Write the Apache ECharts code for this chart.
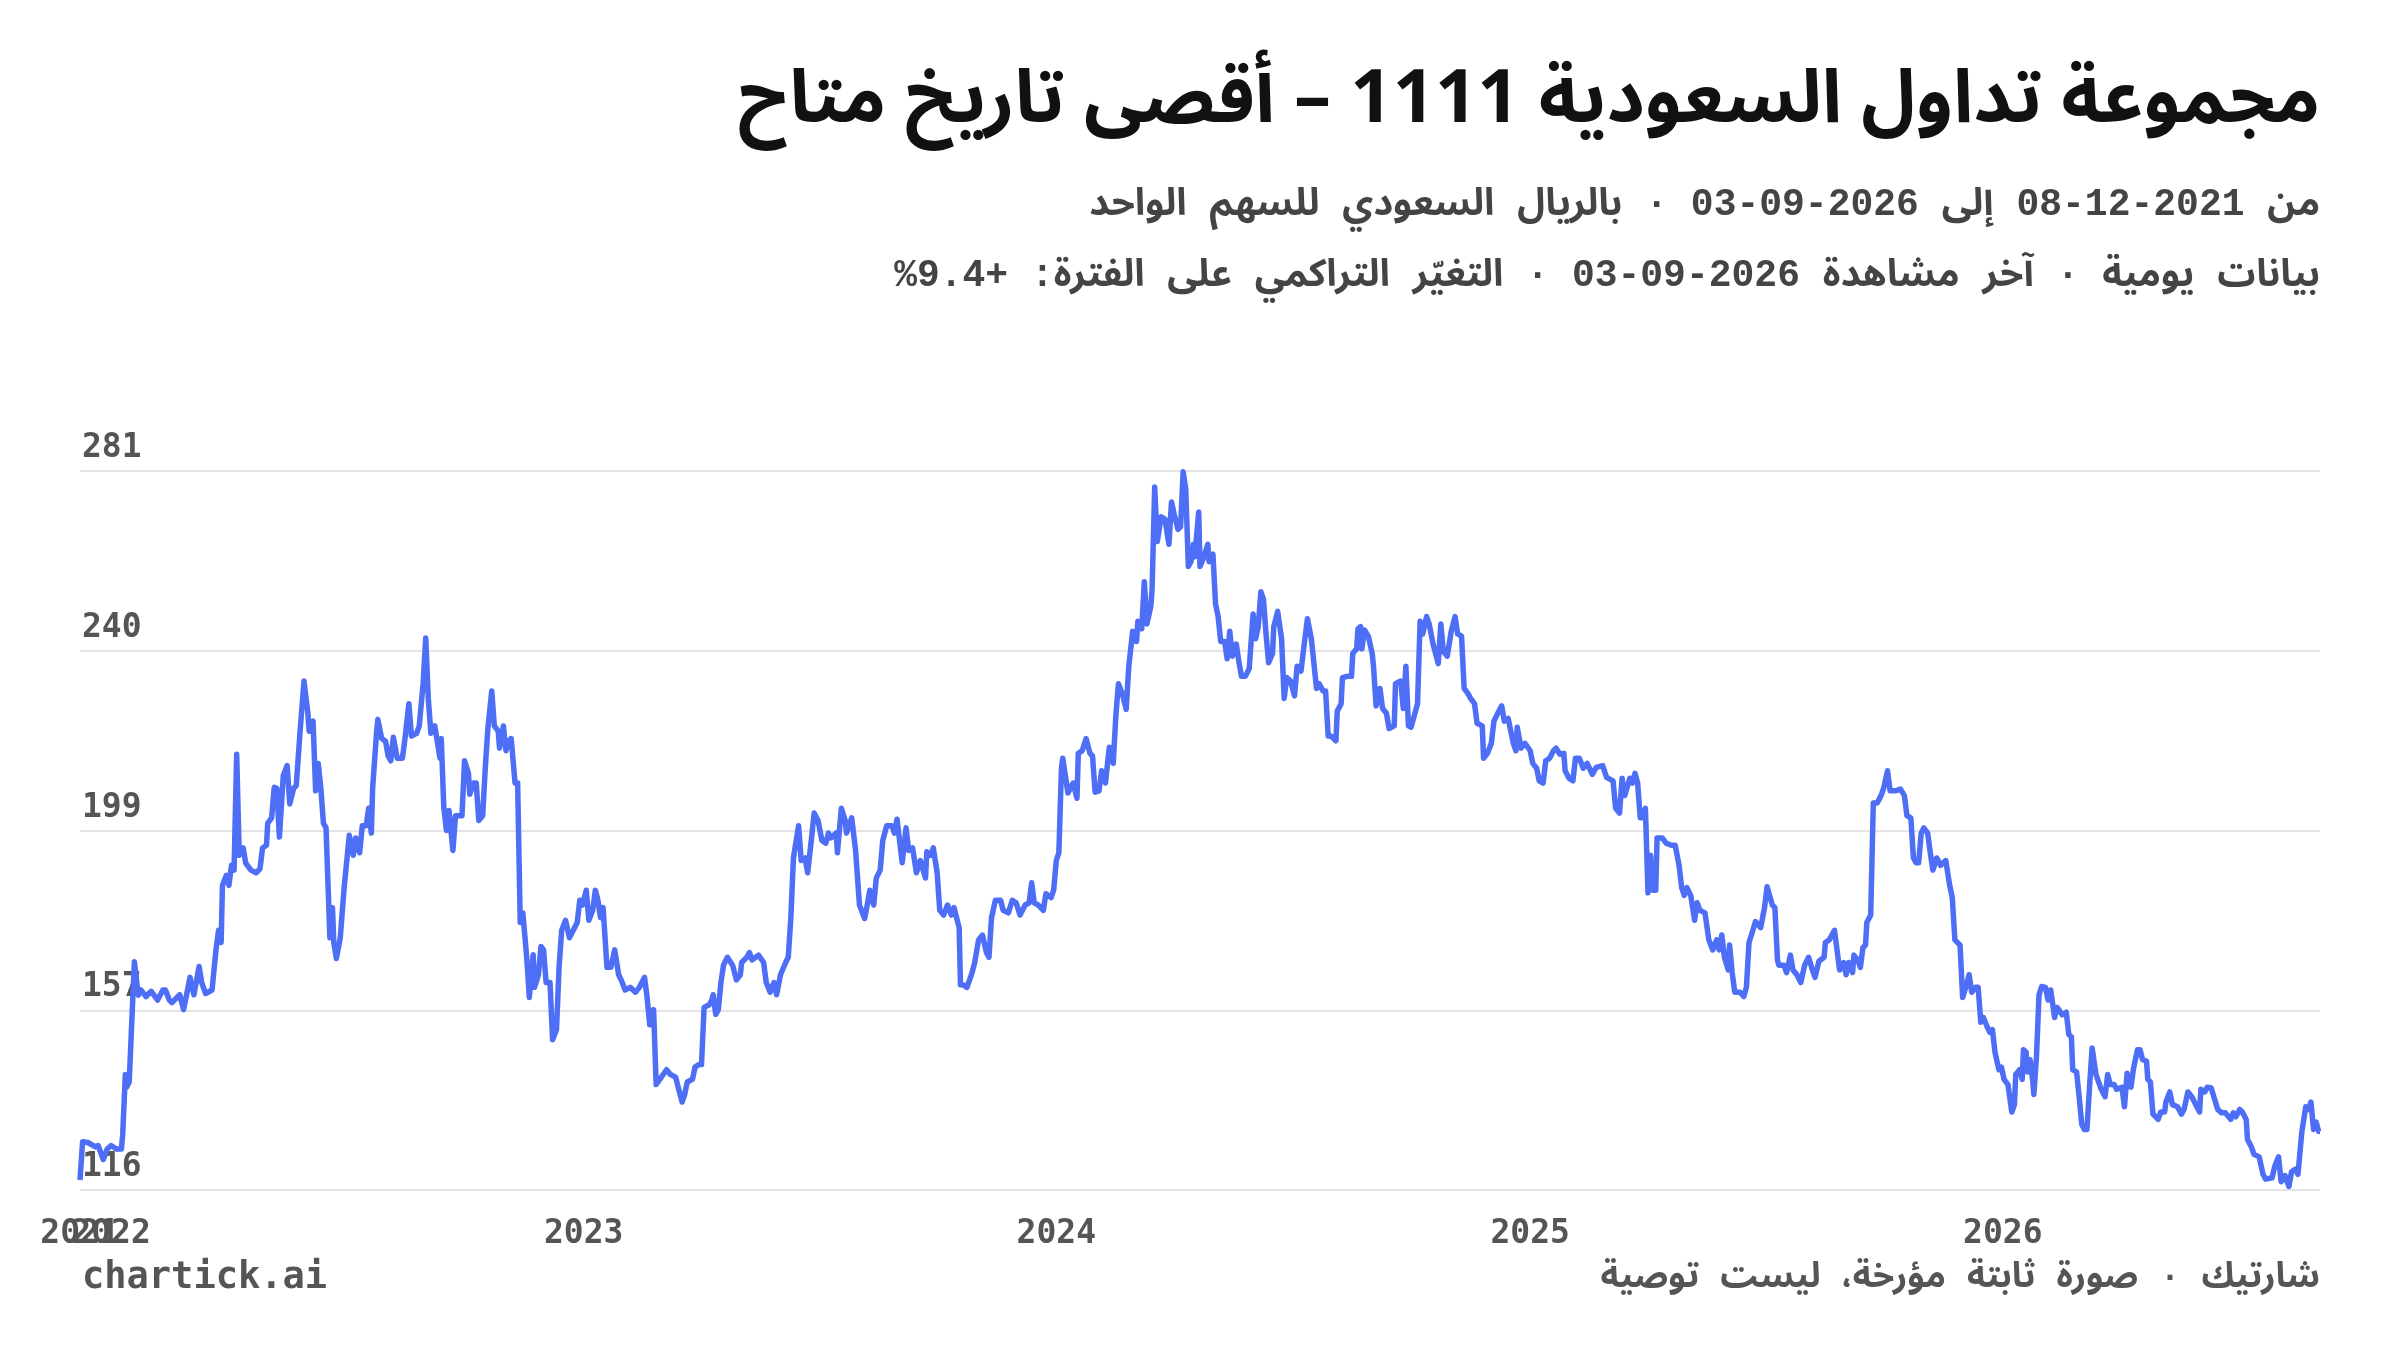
<!DOCTYPE html>
<html>
<head>
    <meta charset="utf-8">
    <title>مجموعة تداول السعودية 1111</title>
    <script src="https://cdn.jsdelivr.net/npm/echarts@6/dist/echarts.min.js"></script>
    <style>
        html, body { margin: 0; padding: 0; background: #fff; }
        #chart { width: 2400px; height: 1350px; }
    </style>
</head>
<body>
<!-- dir=rtl so the canvas lays out the Arabic lines right to left -->
<div id="chart" dir="rtl"></div>
<script type="text/javascript">

    // ------ data ------
    var dates = [
        '2021-12-08','2021-12-10','2021-12-14','2021-12-20','2021-12-22','2021-12-26','2021-12-29',
        '2022-01-01','2022-01-05','2022-01-09','2022-01-10','2022-01-12','2022-01-13','2022-01-15','2022-01-19','2022-01-22','2022-01-24','2022-01-28',
        '2022-02-01','2022-02-06','2022-02-10','2022-02-12','2022-02-15','2022-02-17','2022-02-23','2022-02-26',
        '2022-03-03','2022-03-06','2022-03-10','2022-03-12','2022-03-15','2022-03-20','2022-03-23','2022-03-25','2022-03-27','2022-03-28','2022-03-31',
        '2022-04-02','2022-04-04','2022-04-06','2022-04-08','2022-04-10','2022-04-13','2022-04-15','2022-04-19','2022-04-23','2022-04-26','2022-04-28',
        '2022-05-01','2022-05-02','2022-05-05','2022-05-07','2022-05-09','2022-05-11','2022-05-14','2022-05-17','2022-05-19','2022-05-22','2022-05-24','2022-05-27','2022-05-30',
        '2022-06-02','2022-06-03','2022-06-06','2022-06-08','2022-06-10','2022-06-12','2022-06-14','2022-06-16','2022-06-19','2022-06-21','2022-06-22','2022-06-24','2022-06-27','2022-06-30',
        '2022-07-04','2022-07-07','2022-07-09','2022-07-12','2022-07-14','2022-07-17','2022-07-19','2022-07-21','2022-07-22','2022-07-25','2022-07-26','2022-07-29',
        '2022-08-01','2022-08-03','2022-08-05','2022-08-07','2022-08-10','2022-08-14','2022-08-16','2022-08-19','2022-08-21','2022-08-25','2022-08-27','2022-08-30',
        '2022-09-01','2022-09-03','2022-09-05','2022-09-08','2022-09-12','2022-09-13','2022-09-15','2022-09-17','2022-09-19','2022-09-22','2022-09-24','2022-09-29',
        '2022-10-01','2022-10-04','2022-10-05','2022-10-08','2022-10-10','2022-10-12','2022-10-15','2022-10-17','2022-10-19','2022-10-22','2022-10-24','2022-10-27','2022-10-28','2022-10-31',
        '2022-11-02','2022-11-04','2022-11-06','2022-11-09','2022-11-11','2022-11-13','2022-11-15','2022-11-18','2022-11-20','2022-11-23','2022-11-24','2022-11-27','2022-11-29',
        '2022-12-01','2022-12-03','2022-12-06','2022-12-08','2022-12-11','2022-12-13','2022-12-15','2022-12-18','2022-12-21','2022-12-24','2022-12-27','2022-12-29','2022-12-31',
        '2023-01-03','2023-01-05','2023-01-08','2023-01-10','2023-01-12','2023-01-14','2023-01-16','2023-01-19','2023-01-22','2023-01-25','2023-01-28','2023-01-30',
        '2023-02-02','2023-02-06','2023-02-10','2023-02-13','2023-02-17','2023-02-19','2023-02-21','2023-02-24','2023-02-26',
        '2023-03-02','2023-03-06','2023-03-09','2023-03-13','2023-03-15','2023-03-18','2023-03-20','2023-03-22','2023-03-26','2023-03-28','2023-03-31',
        '2023-04-02','2023-04-04','2023-04-08','2023-04-10','2023-04-11','2023-04-13','2023-04-15','2023-04-17','2023-04-19','2023-04-22','2023-04-26','2023-04-29',
        '2023-05-02','2023-05-03','2023-05-07','2023-05-09','2023-05-11','2023-05-16','2023-05-20','2023-05-22','2023-05-25','2023-05-28','2023-05-30',
        '2023-06-02','2023-06-06','2023-06-08','2023-06-10','2023-06-12','2023-06-16','2023-06-18','2023-06-21','2023-06-23','2023-06-26','2023-06-28',
        '2023-07-01','2023-07-04','2023-07-07','2023-07-09','2023-07-11','2023-07-15','2023-07-16','2023-07-19','2023-07-22','2023-07-23','2023-07-27','2023-07-30',
        '2023-08-02','2023-08-06','2023-08-08','2023-08-10','2023-08-13','2023-08-15','2023-08-18','2023-08-20','2023-08-23','2023-08-27','2023-08-29','2023-08-31',
        '2023-09-04','2023-09-07','2023-09-09','2023-09-12','2023-09-15','2023-09-18','2023-09-22','2023-09-23','2023-09-26','2023-09-28',
        '2023-10-01','2023-10-03','2023-10-06','2023-10-09','2023-10-12','2023-10-14','2023-10-18','2023-10-19','2023-10-21','2023-10-24','2023-10-28','2023-10-30',
        '2023-11-02','2023-11-05','2023-11-08','2023-11-10','2023-11-12','2023-11-15','2023-11-19','2023-11-21','2023-11-25','2023-11-28',
        '2023-12-01','2023-12-04','2023-12-08','2023-12-11','2023-12-13','2023-12-15','2023-12-18','2023-12-22','2023-12-24','2023-12-28','2023-12-30',
        '2024-01-01','2024-01-03','2024-01-05','2024-01-06','2024-01-10','2024-01-14','2024-01-17','2024-01-18','2024-01-21','2024-01-24','2024-01-27','2024-01-29','2024-01-31',
        '2024-02-03','2024-02-05','2024-02-08','2024-02-10','2024-02-11','2024-02-14','2024-02-16','2024-02-18','2024-02-21','2024-02-24','2024-02-26','2024-02-29',
        '2024-03-03','2024-03-04','2024-03-07','2024-03-09','2024-03-11','2024-03-14','2024-03-15','2024-03-17','2024-03-19','2024-03-22','2024-03-25','2024-03-28','2024-03-30',
        '2024-04-01','2024-04-04','2024-04-06','2024-04-08','2024-04-10','2024-04-12','2024-04-14','2024-04-16','2024-04-17','2024-04-20','2024-04-21','2024-04-24','2024-04-27','2024-04-28',
        '2024-05-01','2024-05-03','2024-05-05','2024-05-07','2024-05-10','2024-05-12','2024-05-14','2024-05-16','2024-05-19','2024-05-21','2024-05-23','2024-05-26','2024-05-29',
        '2024-06-01','2024-06-03','2024-06-05','2024-06-07','2024-06-09','2024-06-11','2024-06-13','2024-06-16','2024-06-17','2024-06-20','2024-06-23','2024-06-25','2024-06-27','2024-06-30',
        '2024-07-03','2024-07-05','2024-07-08','2024-07-11','2024-07-13','2024-07-16','2024-07-18','2024-07-20','2024-07-22','2024-07-25','2024-07-27','2024-07-29','2024-07-31',
        '2024-08-04','2024-08-05','2024-08-08','2024-08-09','2024-08-13','2024-08-16','2024-08-17','2024-08-20','2024-08-21','2024-08-23','2024-08-24','2024-08-26','2024-08-29',
        '2024-09-01','2024-09-02','2024-09-04','2024-09-07','2024-09-09','2024-09-12','2024-09-14','2024-09-18','2024-09-19','2024-09-23','2024-09-25','2024-09-27','2024-09-29',
        '2024-10-01','2024-10-04','2024-10-06','2024-10-08','2024-10-10','2024-10-13','2024-10-15','2024-10-18','2024-10-22','2024-10-24','2024-10-26','2024-10-29',
        '2024-11-01','2024-11-04','2024-11-06','2024-11-09','2024-11-11','2024-11-14','2024-11-16','2024-11-19','2024-11-21','2024-11-25','2024-11-26','2024-11-29',
        '2024-12-02','2024-12-04','2024-12-07','2024-12-10','2024-12-12','2024-12-15','2024-12-19','2024-12-21','2024-12-22','2024-12-25','2024-12-28',
        '2025-01-01','2025-01-03','2025-01-06','2025-01-08','2025-01-11','2025-01-13','2025-01-16','2025-01-19','2025-01-21','2025-01-24','2025-01-27','2025-01-28','2025-01-31',
        '2025-02-03','2025-02-05','2025-02-08','2025-02-11','2025-02-14','2025-02-18','2025-02-21','2025-02-26',
        '2025-03-01','2025-03-06','2025-03-08','2025-03-11','2025-03-13','2025-03-15','2025-03-19','2025-03-21','2025-03-23','2025-03-25','2025-03-27','2025-03-29','2025-03-31',
        '2025-04-02','2025-04-04','2025-04-06','2025-04-08','2025-04-09','2025-04-13','2025-04-16','2025-04-20','2025-04-23','2025-04-26','2025-04-28','2025-04-30',
        '2025-05-02','2025-05-05','2025-05-08','2025-05-10','2025-05-12','2025-05-16','2025-05-19','2025-05-22','2025-05-25','2025-05-27','2025-05-29','2025-05-31',
        '2025-06-03','2025-06-04','2025-06-06','2025-06-08','2025-06-12','2025-06-15','2025-06-17','2025-06-19','2025-06-22','2025-06-24','2025-06-28',
        '2025-07-01','2025-07-03','2025-07-07','2025-07-09','2025-07-11','2025-07-12','2025-07-16','2025-07-18','2025-07-21','2025-07-23','2025-07-26','2025-07-29',
        '2025-08-01','2025-08-04','2025-08-07','2025-08-09','2025-08-12','2025-08-16','2025-08-17','2025-08-20','2025-08-24','2025-08-26','2025-08-28','2025-08-31',
        '2025-09-02','2025-09-04','2025-09-07','2025-09-08','2025-09-11','2025-09-13','2025-09-15','2025-09-17','2025-09-18','2025-09-21','2025-09-23','2025-09-26','2025-09-29',
        '2025-10-01','2025-10-04','2025-10-06','2025-10-10','2025-10-14','2025-10-17','2025-10-19','2025-10-22','2025-10-24','2025-10-26','2025-10-28','2025-10-30',
        '2025-11-01','2025-11-04','2025-11-06','2025-11-08','2025-11-11','2025-11-14','2025-11-18','2025-11-21','2025-11-23','2025-11-25','2025-11-29',
        '2025-12-01','2025-12-04','2025-12-06','2025-12-08','2025-12-11','2025-12-13','2025-12-15','2025-12-17','2025-12-20','2025-12-22','2025-12-24','2025-12-26','2025-12-29','2025-12-31',
        '2026-01-02','2026-01-05','2026-01-08','2026-01-10','2026-01-11','2026-01-14','2026-01-16','2026-01-17','2026-01-19','2026-01-20','2026-01-22','2026-01-24','2026-01-25','2026-01-27','2026-01-29','2026-01-31',
        '2026-02-03','2026-02-05','2026-02-07','2026-02-10','2026-02-12','2026-02-16','2026-02-19','2026-02-21','2026-02-23','2026-02-24','2026-02-27',
        '2026-03-01','2026-03-03','2026-03-05','2026-03-07','2026-03-09','2026-03-11','2026-03-14','2026-03-16','2026-03-18','2026-03-21','2026-03-23','2026-03-25','2026-03-28','2026-03-30',
        '2026-04-03','2026-04-05','2026-04-07','2026-04-10','2026-04-12','2026-04-15','2026-04-17','2026-04-19','2026-04-22','2026-04-23','2026-04-25','2026-04-27',
        '2026-05-01','2026-05-03','2026-05-06','2026-05-07','2026-05-10','2026-05-12','2026-05-16','2026-05-19','2026-05-21','2026-05-24','2026-05-27','2026-05-30',
        '2026-06-02','2026-06-03','2026-06-06','2026-06-08','2026-06-11','2026-06-13','2026-06-16','2026-06-19','2026-06-22','2026-06-26','2026-06-28','2026-06-30',
        '2026-07-03','2026-07-05','2026-07-08','2026-07-09','2026-07-12','2026-07-14','2026-07-18','2026-07-21','2026-07-23','2026-07-28','2026-07-30',
        '2026-08-02','2026-08-04','2026-08-07','2026-08-10','2026-08-12','2026-08-15','2026-08-17','2026-08-20','2026-08-23','2026-08-25','2026-08-27','2026-08-29','2026-08-31',
        '2026-09-02','2026-09-03'
    ];

    var prices = [
        118.3,127.1,126.9,125.9,126.2,123.0,125.4,
        126.2,125.4,125.4,128.8,142.5,139.6,140.8,168.4,160.7,161.9,160.4,
        161.6,159.6,161.9,161.9,159.6,159.0,160.8,157.4,
        164.8,160.8,167.3,163.6,161.1,161.9,171.1,175.6,172.8,185.9,188.2,
        185.9,190.5,189.4,216.0,192.8,194.5,191.0,189.4,188.8,189.7,194.5,
        195.1,200.2,201.4,208.4,208.2,197.0,211.1,213.4,204.6,208.2,208.8,221.3,232.8,
        225.4,221.3,223.6,207.6,213.9,208.2,200.2,199.1,173.9,180.8,172.8,169.1,173.9,185.4,
        197.4,192.8,196.8,193.4,199.6,199.6,203.6,197.9,208.2,220.8,224.0,219.6,
        219.0,215.6,214.5,219.9,215.1,215.1,219.6,227.6,220.2,220.8,222.5,232.2,
        242.7,228.8,220.8,222.5,215.1,219.6,203.6,198.5,203.1,193.9,201.9,201.9,
        214.5,211.6,206.8,209.4,209.4,200.8,201.9,212.8,221.9,230.5,222.5,221.3,217.4,222.5,
        216.8,219.0,219.6,209.4,209.4,177.4,179.6,169.4,160.2,170.0,162.5,165.3,171.9,
        171.1,163.6,163.6,150.5,152.8,167.1,175.6,177.9,173.9,175.6,177.4,182.5,181.4,
        184.8,177.9,180.2,184.8,182.5,178.5,180.8,167.1,167.1,171.1,165.4,164.2,
        161.9,162.5,161.4,162.5,164.8,160.2,153.9,157.4,140.2,
        141.9,143.6,142.5,141.9,139.6,136.2,137.9,140.8,141.4,144.2,144.8,
        144.8,157.9,158.5,159.6,160.8,156.3,157.4,163.6,167.6,169.4,167.6,164.2,
        165.4,168.2,169.4,170.5,168.8,169.9,168.2,163.6,161.4,163.6,160.8,
        165.4,168.2,169.4,178.5,192.2,199.6,191.6,192.2,188.8,196.8,202.5,
        200.8,196.2,195.6,197.9,196.8,197.9,193.4,203.6,200.8,197.9,201.4,193.9,
        181.4,178.3,181.4,184.8,181.4,187.6,189.4,196.2,199.6,199.6,197.9,201.1,
        191.1,199.1,193.9,194.5,188.8,191.6,187.6,193.6,192.8,194.5,
        188.8,180.2,179.1,181.4,179.1,180.8,176.2,163.1,163.1,162.5,165.9,168.2,
        173.4,174.5,170.5,169.4,178.5,182.5,182.5,180.2,179.6,182.5,
        181.9,179.1,181.4,181.9,186.5,181.9,181.4,180.2,184.0,183.1,184.8,
        191.6,193.4,212.8,215.1,207.1,209.4,205.9,216.2,216.8,219.6,216.2,215.6,207.3,
        207.6,212.2,209.4,215.1,217.6,213.9,224.8,232.2,229.9,226.3,236.2,244.2,
        241.9,246.5,244.8,255.6,245.9,249.9,253.9,277.3,264.8,270.5,269.9,264.2,273.9,
        271.1,267.6,268.2,280.8,276.8,259.1,260.2,264.2,261.3,271.6,259.1,261.3,264.2,260.2,
        261.9,250.5,247.6,241.9,241.9,237.9,244.2,238.5,241.3,237.3,233.9,233.9,235.6,
        248.2,242.5,245.3,253.3,251.6,243.6,237.0,239.1,245.3,248.8,242.5,228.8,233.6,232.8,
        229.4,236.2,235.1,242.5,247.1,242.5,236.8,231.1,232.2,230.5,230.5,220.2,220.2,
        219.1,225.9,227.6,233.6,233.9,233.9,239.1,240.2,244.8,245.3,240.2,244.5,243.1,
        239.1,236.2,227.1,231.1,226.5,225.4,221.9,222.5,232.2,232.8,226.5,236.2,222.5,
        222.2,225.4,227.6,246.5,243.6,247.6,245.9,241.3,236.8,245.9,239.6,238.5,
        244.2,247.6,243.6,243.1,231.1,229.9,228.8,227.6,223.1,222.5,215.1,216.2,
        218.5,223.6,225.4,227.1,223.6,224.2,218.5,216.8,222.2,217.4,218.5,
        216.8,213.9,212.8,209.9,209.4,214.5,215.1,216.8,217.4,216.0,216.2,212.2,210.5,
        209.9,215.1,215.1,212.8,213.9,211.4,213.0,213.4,
        210.7,209.9,203.6,202.5,210.5,206.5,210.5,209.4,211.6,209.4,201.4,201.4,203.6,
        184.2,192.8,184.8,184.8,196.8,196.8,195.6,195.1,195.1,190.5,185.4,183.6,
        185.4,183.6,177.9,181.9,180.2,179.6,173.4,171.1,173.4,171.1,174.5,169.4,
        166.5,172.2,165.9,161.4,161.4,160.4,162.5,172.8,175.6,177.6,176.2,
        180.8,185.6,181.4,180.8,168.8,167.6,167.6,165.9,169.9,166.5,165.4,163.6,
        167.6,169.4,166.5,164.8,168.5,169.4,172.8,173.4,175.6,171.1,166.5,168.2,
        165.4,168.2,165.9,169.9,168.8,167.1,171.6,172.2,177.4,179.1,204.8,204.8,206.5,
        208.2,212.2,207.6,207.6,208.0,206.5,201.9,201.4,192.2,191.1,191.1,197.9,
        199.1,197.9,193.4,189.4,192.2,190.5,191.6,185.9,183.1,173.4,172.2,
        160.2,163.1,165.4,161.4,162.5,162.5,154.5,155.6,153.4,152.2,152.8,147.6,143.6,144.2,
        141.4,140.2,133.9,135.6,142.5,143.6,141.4,148.2,147.6,143.1,145.9,141.4,137.9,146.5,160.8,162.7,
        162.5,159.6,161.9,155.6,157.9,156.2,156.8,151.7,151.1,143.6,143.1,
        137.4,131.1,129.9,129.9,139.6,148.6,142.5,140.8,139.1,137.4,142.5,140.2,140.2,139.1,
        139.6,135.1,142.8,139.6,143.9,148.2,148.2,145.9,145.6,141.4,140.8,133.4,
        132.2,133.9,133.9,136.2,138.5,135.6,135.1,133.4,134.5,138.5,137.4,135.6,
        133.9,139.1,138.5,139.6,139.4,137.4,134.5,133.7,133.7,132.2,133.7,132.8,
        134.5,133.9,132.2,127.6,125.9,124.2,123.6,119.6,118.5,118.8,121.4,
        123.6,117.9,119.3,116.8,120.2,120.8,119.6,129.4,135.1,134.5,136.2,129.9,131.6,
        129.4,129.4
    ];

    // y ticks (labels are rounded)
    var yTicks = [116, 157.25, 198.5, 239.75, 281];
    // x labels: first observation plus each new year (2022 sits on its own axis so it is not dropped)
    var xTickDates = ['2021-12-08', '2023-01-01', '2024-01-01', '2025-01-01', '2026-01-01'];
    var xTickDates2 = ['2022-01-01'];

    var titleText = 'مجموعة تداول السعودية 1111 – أقصى تاريخ متاح';
    var subLine1 = 'من 2021-12-08 إلى 2026-09-03 · بالريال السعودي للسهم الواحد';
    var subLine2 = 'بيانات يومية · آخر مشاهدة 2026-09-03 · التغيّر التراكمي على الفترة: +9.4%';
    var footLeft = 'chartick.ai';
    var footRight = 'شارتيك · صورة ثابتة مؤرخة، ليست توصية';

    var monoFont = '"DejaVu Sans Mono", monospace';
    // mono digits with Arabic letters from Noto Sans Arabic
    var mixFont = '"Liberation Mono", "Noto Sans Arabic", "DejaVu Sans", sans-serif';
    var arFont = '"Noto Sans Arabic", "DejaVu Sans", "Noto Sans", sans-serif';

    function toTime(d) { return +echarts.time.parse(d); }
    var seriesData = dates.map(function (d, i) { return [toTime(d), prices[i]]; });
    var tMin = toTime(dates[0]);
    var tMax = toTime(dates[dates.length - 1]);

    function yearAxis(tickDates) {
        var ticks = tickDates.map(toTime);
        return {
            type: 'value',
            gridIndex: 0,
            position: 'bottom',
            min: tMin,
            max: tMax,
            axisLine: { show: false },
            axisTick: { show: false, customValues: ticks },
            splitLine: { show: false },
            axisLabel: {
                customValues: ticks,
                fontFamily: monoFont, fontSize: 33, fontWeight: 'bold', color: '#555555',
                margin: 28, hideOverlap: false, showMinLabel: true, showMaxLabel: true,
                formatter: function (v) { return String(new Date(v).getFullYear()); }
            }
        };
    }

    var myChart = echarts.init(document.getElementById('chart'), null, { renderer: 'canvas' });
    myChart.setOption({
        animation: false,
        backgroundColor: '#ffffff',
        title: [
            {
                text: titleText, right: 80, top: 67, padding: 0,
                textStyle: { fontFamily: arFont, fontSize: 74, fontWeight: 'bold', color: '#111111', lineHeight: 88 }
            },
            {
                text: subLine1, right: 80, top: 181, padding: 0,
                textStyle: { fontFamily: mixFont, fontSize: 38, fontWeight: 'bold', color: '#444444', lineHeight: 48 }
            },
            {
                text: subLine2, right: 80, top: 252, padding: 0,
                textStyle: { fontFamily: mixFont, fontSize: 38, fontWeight: 'bold', color: '#444444', lineHeight: 48 }
            },
            {
                text: footLeft, left: 82, top: 1256, padding: 0,
                textStyle: { fontFamily: monoFont, fontSize: 37, fontWeight: 'bold', color: '#555555', lineHeight: 44 }
            },
            {
                text: footRight, right: 80, top: 1256, padding: 0,
                textStyle: { fontFamily: mixFont, fontSize: 35, fontWeight: 'bold', color: '#555555', lineHeight: 44 }
            }
        ],
        grid: { left: 80, right: 80, top: 471, bottom: 160, containLabel: false },
        xAxis: [yearAxis(xTickDates), yearAxis(xTickDates2)],
        yAxis: {
            type: 'value',
            min: 116,
            max: 281,
            axisLine: { show: false },
            axisTick: { show: false, customValues: yTicks },
            splitLine: { show: true, lineStyle: { color: '#e4e4e8', width: 2 } },
            axisLabel: {
                customValues: yTicks,
                fontFamily: monoFont, fontSize: 33, fontWeight: 'bold', color: '#555555',
                align: 'left', verticalAlign: 'bottom', margin: -2, padding: [0, 0, 6, 0],
                formatter: function (v) { return String(Math.round(v)); }
            }
        },
        series: [
            {
                type: 'line',
                xAxisIndex: 0,
                data: seriesData,
                showSymbol: false,
                symbol: 'none',
                lineStyle: { color: '#4d6ef5', width: 5.5, join: 'round' },
                z: 3
            }
        ]
    });
</script>
</body>
</html>
